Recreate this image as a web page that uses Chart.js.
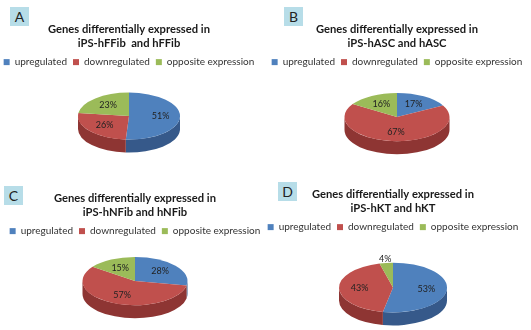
<!DOCTYPE html>
<html>
<head>
<meta charset="utf-8">
<script src="https://cdn.jsdelivr.net/npm/chart.js@4.4.0/dist/chart.umd.min.js"></script>
<style>
  html, body { margin: 0; padding: 0; background: #fff; }
  body { width: 531px; height: 330px; position: relative; overflow: hidden; }
  canvas { position: absolute; }
  .tag { position: absolute; width: 19px; height: 19px; background: #b7dde8; color: #222;
         font: 14px Lato, sans-serif; text-align: center; line-height: 19px; }
</style>
</head>
<body>
<canvas id="pieA" width="290" height="165" style="left:-16px;top:0"></canvas>
<canvas id="pieB" width="290" height="165" style="left:252px;top:0"></canvas>
<canvas id="pieC" width="290" height="165" style="left:-10px;top:165px"></canvas>
<canvas id="pieD" width="290" height="168" style="left:248px;top:165px"></canvas>
<div class="tag" style="left:10px;top:7px">A</div>
<div class="tag" style="left:284px;top:7px">B</div>
<div class="tag" style="left:4px;top:186px">C</div>
<div class="tag" style="left:278px;top:182px">D</div>
<script>
// data
const categories = ['upregulated', 'downregulated', 'opposite expression'];
const titleA = ['Genes differentially expressed in', 'iPS-hFFib  and hFFib'];
const titleB = ['Genes differentially expressed in', 'iPS-hASC and hASC'];
const titleC = ['Genes differentially expressed in', 'iPS-hNFib and hNFib'];
const titleD = ['Genes differentially expressed in', 'iPS-hKT and hKT'];
const hFFibValues = [51, 26, 23];
const hASCValues = [17, 67, 16];
const hNFibValues = [28, 57, 15];
const hKTValues = [53, 43, 4];

const topColors = ['#4f81bd', '#c0504d', '#9bbb59'];
const sideColors = ['#36598a', '#8e3533', '#71893f'];
const FONT = 'Lato, "Open Sans", sans-serif';

// fake excel-style 3d: draw the front wall, then squash the pie top
const pie3d = {
    id: 'pie3d',
    beforeDatasetsDraw(chart, args, opts) {
        const ctx = chart.ctx;
        const arcs = chart.getDatasetMeta(0).data;
        if (!arcs.length) return;
        const { x, y, outerRadius: r } = arcs[0];
        const ry = r * opts.tilt;
        arcs.forEach((arc, i) => {
            // only the front half (0..PI) of the wall shows
            const a = Math.max(arc.startAngle, 0);
            const b = Math.min(arc.endAngle, Math.PI);
            if (b <= a) return;
            ctx.beginPath();
            ctx.ellipse(x, y, r, ry, 0, a, b);
            ctx.ellipse(x, y + opts.depth, r, ry, 0, b, a, true);
            ctx.closePath();
            ctx.fillStyle = sideColors[i];
            ctx.fill();
        });
        ctx.save();
        ctx.translate(x, y);
        ctx.scale(1, opts.tilt);
        ctx.translate(-x, -y);
    },
    afterDatasetsDraw(chart, args, opts) {
        const ctx = chart.ctx;
        ctx.restore();
        const arcs = chart.getDatasetMeta(0).data;
        const values = chart.data.datasets[0].data;
        ctx.save();
        ctx.font = '9px ' + FONT;
        ctx.fillStyle = '#222';
        ctx.textAlign = 'center';
        ctx.textBaseline = 'middle';
        arcs.forEach((arc, i) => {
            const mid = (arc.startAngle + arc.endAngle) / 2;
            const rr = values[i] < 6 ? arc.outerRadius * 1.15 : arc.outerRadius * 0.62;
            ctx.fillText(values[i] + '%', arc.x + Math.cos(mid) * rr, arc.y + Math.sin(mid) * rr * opts.tilt);
        });
        ctx.restore();
    }
};

function makePie(id, title, values, radius, pad) {
    return new Chart(document.getElementById(id), {
        type: 'pie',
        data: {
            labels: categories,
            datasets: [{ data: values, backgroundColor: topColors, borderWidth: 0, radius: radius, clip: false }]
        },
        options: {
            responsive: false,
            animation: false,
            events: [],
            layout: { padding: pad },
            plugins: {
                title: {
                    display: true, text: title, color: '#1a1a1a',
                    font: { family: FONT, size: 11.2, weight: 'bold', lineHeight: 1.3 },
                    padding: { top: 22, bottom: 0 }
                },
                legend: {
                    position: 'top',
                    labels: { boxWidth: 6, boxHeight: 6, padding: 6, color: '#333', font: { family: FONT, size: 10 } }
                },
                tooltip: { enabled: false },
                pie3d: { tilt: 0.46, depth: 13 }
            }
        },
        plugins: [pie3d]
    });
}

makePie('pieA', titleA, hFFibValues, 51, { bottom: 10 });
makePie('pieB', titleB, hASCValues, 52.5, { bottom: 8 });
makePie('pieC', titleC, hNFibValues, 52.5, { top: 4, bottom: 14 });
makePie('pieD', titleD, hKTValues, 54, { bottom: 0 });
</script>
</body>
</html>
